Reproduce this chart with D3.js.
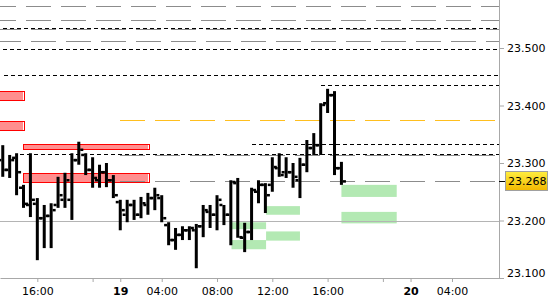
<!DOCTYPE html>
<html>
<head>
<meta charset="utf-8">
<script src="https://cdn.jsdelivr.net/npm/d3@7"></script>
<style>
  html, body { margin: 0; padding: 0; background: #fff; }
  svg { display: block; font-family: "DejaVu Sans", sans-serif; }
</style>
</head>
<body>
<div id="chart"></div>
<script>
// 30 min bars, bar index 0 = 18th 16:00 (session 01:00 - 22:00, so the axis skips the night gap)
const barIndex = d3.range(-5, 45);

const open = [23.305, 23.288, 23.309, 23.257, 23.227, 23.229, 23.204, 23.208, 23.227, 23.236,
  23.236, 23.305, 23.314, 23.288, 23.270, 23.284, 23.270, 23.232, 23.210, 23.227,
  23.210, 23.227, 23.239, 23.239, 23.192, 23.166, 23.175, 23.183, 23.183, 23.190,
  23.215, 23.210, 23.227, 23.210, 23.265, 23.170, 23.180, 23.250, 23.262, 23.262,
  23.291, 23.284, 23.284, 23.270, 23.297, 23.326, 23.331, 23.404, 23.418, 23.291];
const high = [23.331, 23.314, 23.317, 23.262, 23.317, 23.239, 23.227, 23.230, 23.276, 23.283,
  23.317, 23.337, 23.317, 23.310, 23.297, 23.300, 23.279, 23.236, 23.236, 23.236,
  23.241, 23.248, 23.257, 23.244, 23.197, 23.187, 23.190, 23.190, 23.194, 23.227,
  23.227, 23.244, 23.227, 23.270, 23.274, 23.196, 23.257, 23.270, 23.265, 23.310,
  23.317, 23.310, 23.300, 23.309, 23.340, 23.352, 23.404, 23.429, 23.425, 23.302];
const low = [23.276, 23.274, 23.244, 23.222, 23.206, 23.131, 23.152, 23.152, 23.222, 23.222,
  23.201, 23.297, 23.279, 23.257, 23.257, 23.258, 23.239, 23.183, 23.197, 23.201,
  23.204, 23.210, 23.218, 23.197, 23.157, 23.149, 23.166, 23.166, 23.117, 23.171,
  23.187, 23.183, 23.192, 23.157, 23.170, 23.145, 23.166, 23.230, 23.213, 23.250,
  23.276, 23.274, 23.257, 23.239, 23.284, 23.314, 23.314, 23.387, 23.279, 23.262];
const close = [23.288, 23.305, 23.284, 23.229, 23.236, 23.204, 23.208, 23.218, 23.244, 23.270,
  23.305, 23.323, 23.288, 23.274, 23.284, 23.270, 23.244, 23.218, 23.227, 23.210,
  23.230, 23.239, 23.244, 23.204, 23.166, 23.175, 23.183, 23.187, 23.190, 23.218,
  23.210, 23.236, 23.210, 23.267, 23.171, 23.180, 23.253, 23.262, 23.244, 23.293,
  23.279, 23.284, 23.276, 23.297, 23.326, 23.331, 23.401, 23.418, 23.291, 23.268];

const lastPrice = 23.268;

// supply (red) and demand (green) zones: [top, bottom, fromBar, toBar]
const redZones = [
  [23.425, 23.408, -6, -1.8],
  [23.373, 23.356, -6, -1.8],
  [23.333, 23.322, -2.1, 16.3],
  [23.283, 23.266, -2.1, 16.3]
];
const greenZones = [
  [23.197, 23.185, 28.1, 33.1],
  [23.166, 23.150, 28.1, 33.1],
  [23.225, 23.210, 33.1, 38],
  [23.181, 23.165, 33.1, 38],
  [23.262, 23.241, 44, 52],
  [23.215, 23.195, 44, 52]
];

// horizontal levels: [price, fromBar]
const grayLevelsA = [[23.573, -6], [23.549, -6]];
const grayLevelsB = [[23.533, -6], [23.512, -6], [23.314, 12], [23.268, 12]];
const blackLevels = [[23.534, -6], [23.498, -6], [23.453, -4.8], [23.435, 41],
  [23.333, 31], [23.316, -2.5]];
const orangeLevels = [[23.375, 12]];
const gridLevels = [23.2];

const yTicks = [23.1, 23.2, 23.3, 23.4, 23.5];
const xTickBars = [0, 8, 12, 18, 26, 34, 42, 50, 54, 60];
const xTickLabels = ['16:00', '', '19', '04:00', '08:00', '12:00', '16:00', '', '20', '04:00'];
const xTickBold = ['19', '20'];

const W = 550, H = 300;
const PLOT_W = 499, PLOT_H = 278;

const svg = d3.select('#chart').append('svg')
  .attr('width', W)
  .attr('height', H);

const x = d3.scaleLinear().domain([-5.4, 66.8]).range([0, PLOT_W]);
const y = d3.scaleLinear().domain([23.1, 23.5835]).range([PLOT_H, 0]);

const defs = svg.append('defs');
defs.append('clipPath').attr('id', 'clip')
  .append('rect').attr('width', PLOT_W).attr('height', PLOT_H);
const grad = defs.append('linearGradient').attr('id', 'gold')
  .attr('x1', 0).attr('y1', 0).attr('x2', 0).attr('y2', 1);
grad.append('stop').attr('offset', '0%').attr('stop-color', '#ffee40');
grad.append('stop').attr('offset', '100%').attr('stop-color', '#f2b800');

const plot = svg.append('g').attr('clip-path', 'url(#clip)');

const py = v => Math.round(y(v)) + 0.5;

// zones
plot.selectAll('.green').data(greenZones).enter().append('rect')
  .attr('x', d => x(d[2]))
  .attr('y', d => y(d[0]))
  .attr('width', d => x(d[3]) - x(d[2]))
  .attr('height', d => y(d[1]) - y(d[0]))
  .attr('fill', '#b3e9b3');

plot.selectAll('.redfill').data(redZones).enter().append('rect')
  .attr('x', d => Math.round(x(d[2])))
  .attr('y', d => Math.round(y(d[0])))
  .attr('width', d => Math.round(x(d[3])) - Math.round(x(d[2])) - 2)
  .attr('height', d => Math.round(y(d[1])) - Math.round(y(d[0])))
  .attr('fill', '#ff8f8f');
plot.selectAll('.redline').data(redZones).enter().append('rect')
  .attr('x', d => Math.round(x(d[2])) + 0.5)
  .attr('y', d => Math.round(y(d[0])) + 0.5)
  .attr('width', d => Math.round(x(d[3])) - Math.round(x(d[2])) - 1)
  .attr('height', d => Math.round(y(d[1])) - Math.round(y(d[0])) - 1)
  .attr('fill', 'none')
  .attr('stroke', '#ff0000');

// grid
plot.selectAll('.grid').data(gridLevels).enter().append('line')
  .attr('x1', 0).attr('x2', PLOT_W)
  .attr('y1', py).attr('y2', py)
  .attr('stroke', '#b4b4b4');

function levelLines(data, color, dash, offset) {
  plot.selectAll(null).data(data).enter().append('line')
    .attr('x1', d => Math.round(x(d[1])))
    .attr('x2', PLOT_W)
    .attr('y1', d => py(d[0]))
    .attr('y2', d => py(d[0]))
    .attr('stroke', color)
    .attr('stroke-dasharray', dash)
    .attr('stroke-dashoffset', offset);
}
levelLines(grayLevelsA, '#8c8c8c', '25,10', 5);
levelLines(grayLevelsB, '#8c8c8c', '25,10', 0);
levelLines(blackLevels, '#000', '4,3', 0);
levelLines(orangeLevels, '#ffbf1f', '25,10', 0);

// OHLC bars
const bars = barIndex.map((k, i) => ({ k, o: open[i], h: high[i], l: low[i], c: close[i] }));
const barG = plot.selectAll('.bar').data(bars).enter().append('g');
barG.append('rect')
  .attr('x', d => x(d.k) - 1.5)
  .attr('y', d => y(d.h))
  .attr('width', 3)
  .attr('height', d => y(d.l) - y(d.h))
  .attr('fill', '#000');
barG.append('rect')
  .attr('x', d => x(d.k) - 4.5)
  .attr('y', d => y(d.o) - 1.25)
  .attr('width', 3)
  .attr('height', 2.5)
  .attr('fill', '#000');
barG.append('rect')
  .attr('x', d => x(d.k) + 1.5)
  .attr('y', d => y(d.c) - 1.25)
  .attr('width', 3)
  .attr('height', 2.5)
  .attr('fill', '#000');

// axes
const yAxis = svg.append('g')
  .attr('transform', `translate(${PLOT_W},0)`)
  .call(d3.axisRight(y).tickValues(yTicks).tickFormat(d3.format('.3f'))
    .tickSize(5).tickSizeOuter(0).tickPadding(3));
const xAxis = svg.append('g')
  .attr('transform', `translate(0,${PLOT_H})`)
  .call(d3.axisBottom(x).tickValues(xTickBars).tickFormat((d, i) => xTickLabels[i])
    .tickSize(4).tickSizeOuter(0).tickPadding(5));

[yAxis, xAxis].forEach(a => {
  a.select('.domain').attr('stroke', '#a8a8a8');
  a.selectAll('.tick line').attr('stroke', '#a8a8a8');
  a.selectAll('.tick text')
    .attr('fill', '#000')
    .style('font-family', '"DejaVu Sans", sans-serif')
    .style('font-size', '11px');
});
yAxis.select('.domain').attr('d', `M0.5,0V${PLOT_H + 0.5}`);
yAxis.selectAll('.tick text').filter(d => d === 23.1).attr('y', -5);
xAxis.selectAll('.tick text').filter(function () { return xTickBold.includes(this.textContent); })
  .style('font-weight', 'bold');

// last price marker
const lp = py(lastPrice);
svg.append('line')
  .attr('x1', PLOT_W).attr('x2', PLOT_W + 6)
  .attr('y1', lp).attr('y2', lp)
  .attr('stroke', '#000');
svg.append('rect')
  .attr('x', PLOT_W + 6.5).attr('y', lp - 10)
  .attr('width', 42).attr('height', 19)
  .attr('fill', 'url(#gold)')
  .attr('stroke', '#a0a0a0');
svg.append('text')
  .attr('x', PLOT_W + 9).attr('y', lp)
  .attr('dy', '0.35em')
  .style('font-size', '11px')
  .attr('fill', '#000')
  .text(d3.format('.3f')(lastPrice));
</script>
</body>
</html>
